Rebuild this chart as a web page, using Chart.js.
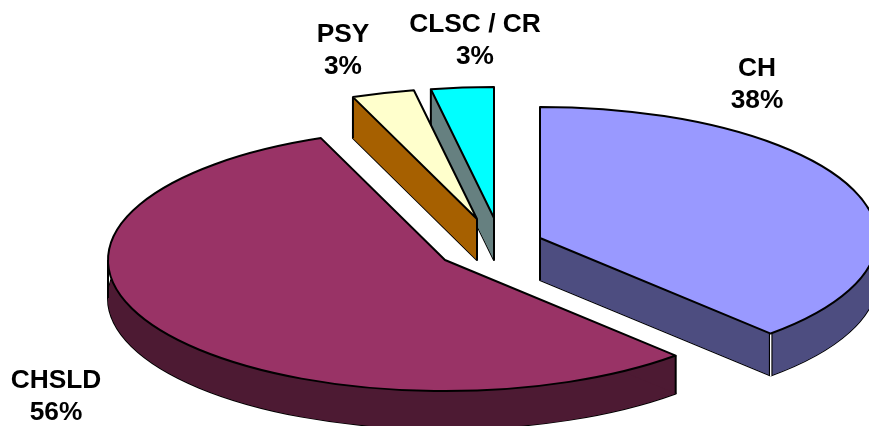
<!DOCTYPE html>
<html>
<head>
<meta charset="utf-8">
<title>Répartition</title>
<script src="https://cdn.jsdelivr.net/npm/chart.js@4/dist/chart.umd.min.js"></script>
<style>
    html, body { margin: 0; padding: 0; background: #fff; }
    #wrap { width: 869px; height: 426px; overflow: hidden; }
</style>
</head>
<body>
<div id="wrap"><canvas id="pieChart" width="869" height="426"></canvas></div>
<script>
// values
const categories = ["CH", "CHSLD", "PSY", "CLSC / CR"];
const shares = [38, 56, 3, 3];

// colours
const topColors = ["#9999ff", "#993366", "#ffffcc", "#00ffff"];
const sideColors = ["#4d4d80", "#4d1a33", "#a66000", "#668080"];

// tilted pie geometry
const pieRadius = 337;
const tilt = 0.389;
const sliceCentres = [[540, 238], [445, 260], [477, 219], [494, 218]];
const sliceDepths = [42, 38, 41, 42];
const labelCentres = [[757, 69], [56, 381], [343, 35], [475, 25]];
const labelLineHeight = 32;

function drawFace(ctx, arc, i, dy, color) {
    arc.options.backgroundColor = color;
    ctx.save();
    ctx.translate(sliceCentres[i][0], sliceCentres[i][1] + dy);
    ctx.scale(1, tilt);
    ctx.translate(-arc.x, -arc.y);
    arc.draw(ctx);
    ctx.restore();
}

// outline is stroked untransformed so the line keeps one width
function strokeOutline(ctx, arc, i, dy, width) {
    const cx = sliceCentres[i][0];
    const cy = sliceCentres[i][1] + dy;
    ctx.beginPath();
    ctx.moveTo(cx, cy);
    ctx.ellipse(cx, cy, arc.outerRadius, arc.outerRadius * tilt, 0, arc.startAngle, arc.endAngle);
    ctx.closePath();
    ctx.lineWidth = width;
    ctx.lineJoin = "round";
    ctx.strokeStyle = "#000";
    ctx.stroke();
}

function corner(arc, i, angle) {
    return {
        x: sliceCentres[i][0] + arc.outerRadius * Math.cos(angle),
        y: sliceCentres[i][1] + arc.outerRadius * tilt * Math.sin(angle)
    };
}

// side wall: curved rim plus the two cut faces
function fillWall(ctx, arc, i, depth, color) {
    const [cx, cy] = sliceCentres[i];
    const rx = arc.outerRadius;
    const ry = rx * tilt;
    ctx.fillStyle = color;

    ctx.beginPath();
    ctx.ellipse(cx, cy, rx, ry, 0, arc.startAngle, arc.endAngle);
    ctx.ellipse(cx, cy + depth, rx, ry, 0, arc.endAngle, arc.startAngle, true);
    ctx.closePath();
    ctx.fill();

    [arc.startAngle, arc.endAngle].forEach((angle) => {
        const p = corner(arc, i, angle);
        ctx.beginPath();
        ctx.moveTo(cx, cy);
        ctx.lineTo(p.x, p.y);
        ctx.lineTo(p.x, p.y + depth);
        ctx.lineTo(cx, cy + depth);
        ctx.closePath();
        ctx.fill();
    });
}

function verticalEdge(ctx, x, y, depth, width, color) {
    ctx.beginPath();
    ctx.moveTo(x, y);
    ctx.lineTo(x, y + depth);
    ctx.lineWidth = width;
    ctx.strokeStyle = color;
    ctx.stroke();
}

const tiltedPie = {
    id: "tiltedPie",
    // slices are drawn last to first so PSY sits over the CLSC wall
    beforeDatasetsDraw(chart) {
        const ctx = chart.ctx;
        const arcs = chart.getDatasetMeta(0).data;

        for (let i = arcs.length - 1; i >= 0; i--) {
            const arc = arcs[i];
            const depth = sliceDepths[i];

            strokeOutline(ctx, arc, i, depth, 2);
            drawFace(ctx, arc, i, depth, sideColors[i]);
            fillWall(ctx, arc, i, depth, sideColors[i]);

            const start = corner(arc, i, arc.startAngle);
            verticalEdge(ctx, sliceCentres[i][0], sliceCentres[i][1], depth, 2, "#000");
            verticalEdge(ctx, start.x, start.y, depth, 2, "#000");
            // silhouette edge at the left end of the ellipse
            if (arc.startAngle <= Math.PI && arc.endAngle >= Math.PI) {
                const left = corner(arc, i, Math.PI);
                verticalEdge(ctx, left.x, left.y, depth, 2, "#000");
            }
            if (i === 0) {
                // crease where the cut face meets the rim
                const end = corner(arc, i, arc.endAngle);
                verticalEdge(ctx, end.x, end.y, depth, 3.6, "#000");
                verticalEdge(ctx, end.x, end.y, depth + 1, 1.4, "#fff");
            }

            drawFace(ctx, arc, i, 0, topColors[i]);
            strokeOutline(ctx, arc, i, 0, 2);
        }
        return false;
    },
    afterDraw(chart) {
        const ctx = chart.ctx;
        ctx.save();
        ctx.font = "bold 26.3px 'Liberation Sans', Arial, sans-serif";
        ctx.fillStyle = "#000";
        ctx.textAlign = "center";
        ctx.textBaseline = "middle";
        categories.forEach((name, i) => {
            const [x, y] = labelCentres[i];
            ctx.fillText(name, x, y);
            ctx.fillText(shares[i] + "%", x, y + labelLineHeight);
        });
        ctx.restore();
    }
};

new Chart(document.getElementById("pieChart"), {
    type: "pie",
    data: {
        labels: categories,
        datasets: [{
            data: shares,
            backgroundColor: topColors,
            borderWidth: 0,
            radius: pieRadius
        }]
    },
    options: {
        responsive: false,
        animation: false,
        events: [],
        plugins: {
            legend: { display: false },
            tooltip: { enabled: false }
        }
    },
    plugins: [tiltedPie]
});
</script>
</body>
</html>
